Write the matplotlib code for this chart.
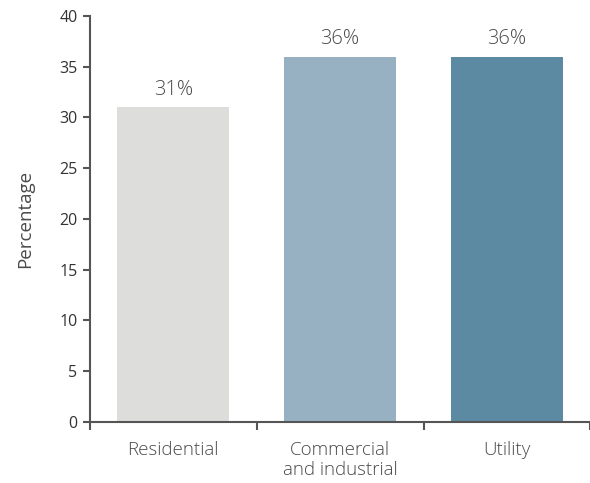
import numpy as np
import matplotlib.pyplot as plt
from matplotlib.ticker import FixedLocator

categories = ["Residential", "Commercial\nand industrial", "Utility"]
values = [31, 36, 36]
colors = ["#dddddc", "#97b1c3", "#5d8aa3"]
yticks = [0, 5, 10, 15, 20, 25, 30, 35, 40]

plt.rcParams['font.family'] = ['Open Sans', 'DejaVu Sans']
plt.rcParams['font.weight'] = 'light'

fig = plt.figure(figsize=(5.9, 4.83), dpi=100)
ax = fig.add_axes([0.1525, 0.1263, 0.848, 0.8407])

x = np.arange(len(categories))
bars = ax.bar(x, values, width=0.67, color=colors, zorder=1)
for b, v in zip(bars, values):
    ax.text(b.get_x() + b.get_width() / 2, v + 0.7, f"{v}%", ha='center',
            va='bottom', fontsize=14.5, color='#4a4a4a')

ax.set_xlim(-0.5, 2.5)
ax.set_ylim(0, 40)
ax.set_yticks(yticks)
ax.set_xticks(x)
ax.set_xticklabels(categories, fontsize=13.5, color='#4a4a4a', linespacing=1.1)
ax.xaxis.set_minor_locator(FixedLocator([-0.5, 0.5, 1.5, 2.5]))
ax.tick_params(axis='x', which='major', length=0, pad=14)
ax.tick_params(axis='x', which='minor', length=6, width=1.5, color='#555555')
ax.tick_params(axis='y', length=5, width=1.5, color='#555555', labelsize=11.5,
               labelcolor='#333333', pad=4)
for lbl in ax.get_yticklabels():
    lbl.set_fontweight('normal')
ax.set_ylabel("Percentage", fontsize=13.5, color='#4a4a4a', labelpad=18)

for s in ['top', 'right']:
    ax.spines[s].set_visible(False)
for s in ['left', 'bottom']:
    ax.spines[s].set_color('#555555')
    ax.spines[s].set_linewidth(1.5)
    ax.spines[s].set_zorder(3)

fig.savefig("out.png", dpi=100)
